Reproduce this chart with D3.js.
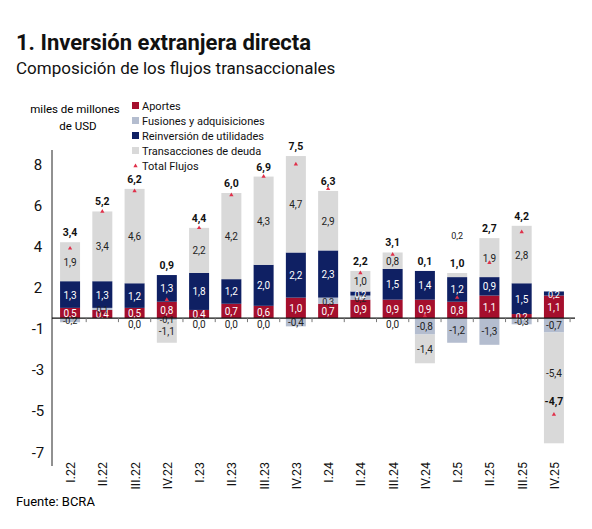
<!DOCTYPE html><html><head><meta charset="utf-8"><script src="https://d3js.org/d3.v7.min.js"></script>
<style>body{margin:0;background:#fff;font-family:Roboto,sans-serif}</style></head><body><svg id="c" width="592" height="529"></svg>
<script>
const categories=["I.22","II.22","III.22","IV.22","I.23","II.23","III.23","IV.23","I.24","II.24","III.24","IV.24","I.25","II.25","III.25","IV.25"];
const aportes=[0.5,0.4,0.5,0.8,0.4,0.7,0.6,1.0,0.7,0.9,0.9,0.9,0.8,1.1,0.2,1.1];
const fusiones=[-0.2,0.1,0.0,-0.1,0.0,0.0,0.0,-0.4,0.3,0.2,0.0,-0.8,-1.2,-1.3,-0.3,-0.7];
const reinversion=[1.3,1.3,1.2,1.3,1.8,1.2,2.0,2.2,2.3,0.2,1.5,1.4,1.2,0.9,1.5,0.2];
const deuda=[1.9,3.4,4.6,-1.1,2.2,4.2,4.3,4.7,2.9,1.0,0.8,-1.4,0.2,1.9,2.8,-5.4];
const total=[3.4,5.2,6.2,0.9,4.4,6.0,6.9,7.5,6.3,2.2,3.1,0.1,1.0,2.7,4.2,-4.7];
const tickPos=[7.5,5.5,3.5,1.5,-0.5,-2.5,-4.5,-6.5];
const tickLabels=["8","6","4","2","-1","-3","-5","-7"];
const series=[{name:"Aportes",v:aportes,c:"#a50f2d",t:"#fff"},{name:"Fusiones y adquisiciones",v:fusiones,c:"#b4bdcf",t:"#222"},{name:"Reinversión de utilidades",v:reinversion,c:"#0f2063",t:"#fff"},{name:"Transacciones de deuda",v:deuda,c:"#d9d9d9",t:"#222"}];
const fmt=v=>v.toFixed(1).replace(".",",");
const svg=d3.select("#c");
svg.append("text").attr("x",16).attr("y",50).attr("font-size",22).attr("font-weight",700).attr("fill","#111").text("1. Inversión extranjera directa");
svg.append("text").attr("x",16).attr("y",74).attr("font-size",17).attr("fill","#111").text("Composición de los flujos transaccionales");
svg.append("text").attr("x",75).attr("y",113).attr("font-size",11.5).attr("text-anchor","middle").text("miles de millones");
svg.append("text").attr("x",78).attr("y",130).attr("font-size",11.5).attr("text-anchor","middle").text("de USD");
svg.append("text").attr("x",16).attr("y",506).attr("font-size",13).text("Fuente: BCRA");
const x=d3.scaleBand().domain(categories).range([52,572]).paddingInner(0.38).paddingOuter(0.25);
const y=d3.scaleLinear().domain([-6.5,8]).range([451.5,154]);
const g=svg.append("g");
categories.forEach((c,i)=>{let pos=0,neg=0;const labs=[];series.forEach(s=>{const v=s.v[i];let y0,y1;if(v>=0){y0=pos;y1=pos+v;pos=y1}else{y0=neg;y1=neg+v;neg=y1}
 g.append("rect").attr("x",x(c)).attr("width",x.bandwidth()).attr("y",y(Math.max(y0,y1))).attr("height",Math.abs(y(y0)-y(y1))).attr("fill",s.c);
 labs.push({v,ym:v===0?y(0)+10:(y(y0)+y(y1))/2+4,col:v===0?"#222":s.t});});
 const top=total[i]<0?y(total[i])-10:y(pos)-6;
 labs.forEach(l=>{let ym=l.ym;if(Math.abs(ym-top)<14)ym=top-28;
  g.append("text").attr("x",x(c)+x.bandwidth()/2).attr("y",ym).attr("text-anchor","middle").attr("font-size",Math.abs(l.v)<0.35&&l.v!==0?9:10).attr("fill",l.col).text(fmt(l.v));});
 g.append("text").attr("x",x(c)+x.bandwidth()/2).attr("y",top).attr("text-anchor","middle").attr("font-size",10.5).attr("font-weight",700).attr("fill","#111").text(fmt(total[i]));
 g.append("path").attr("d",d3.symbol(d3.symbolTriangle,8)()).attr("transform",`translate(${x(c)+x.bandwidth()/2},${y(total[i])})`).attr("fill","#e0304a");});
svg.append("line").attr("x1",52).attr("x2",52).attr("y1",150).attr("y2",466).attr("stroke","#222");
svg.append("line").attr("x1",52).attr("x2",575).attr("y1",y(0)).attr("y2",y(0)).attr("stroke","#111").attr("stroke-width",1.3);
categories.forEach((c,i)=>{const xx=x(c)-x.step()*x.paddingInner()/2;svg.append("line").attr("x1",xx+x.step()).attr("x2",xx+x.step()).attr("y1",y(0)).attr("y2",y(0)+4).attr("stroke","#777");
 svg.append("text").attr("transform",`translate(${x(c)+x.bandwidth()/2+5},462) rotate(-90)`).attr("text-anchor","end").attr("font-size",12.5).attr("fill","#111").text(c);});
tickPos.forEach((p,i)=>svg.append("text").attr("x",38).attr("y",y(p)+6).attr("text-anchor","middle").attr("font-size",15).attr("fill","#111").text(tickLabels[i]));
const legend=[...series.map(s=>({n:s.name,c:s.c})),{n:"Total Flujos",c:null}];
legend.forEach((l,i)=>{const ly=110+i*15;if(l.c)svg.append("rect").attr("x",132).attr("y",ly-8).attr("width",7).attr("height",7).attr("fill",l.c);
 else svg.append("path").attr("d",d3.symbol(d3.symbolTriangle,8)()).attr("transform",`translate(135.5,${ly-4})`).attr("fill","#e0304a");
 svg.append("text").attr("x",142).attr("y",ly).attr("font-size",11).attr("fill","#111").text(l.n);});
</script></body></html>
